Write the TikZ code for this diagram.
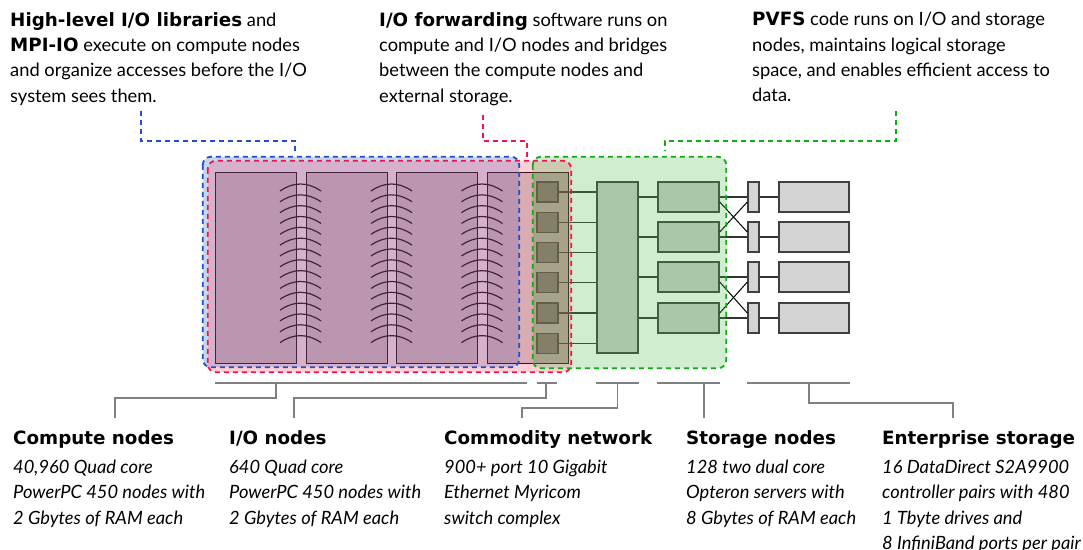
\documentclass[tikz,border=0pt]{standalone}
\usepackage{fontspec}
\setmainfont{Lato}[BoldFont={DejaVu Sans Bold}]
\usepackage{tikz}
\usetikzlibrary{fit,calc}

\definecolor{hlblue}{RGB}{30,80,200}
\definecolor{hlred}{RGB}{240,20,80}
\definecolor{hlgreen}{RGB}{20,170,20}
\definecolor{tintblue}{RGB}{35,99,195}
\definecolor{tintred}{RGB}{255,67,99}
\definecolor{tintgreen}{RGB}{67,187,67}

\tikzset{
  txt/.style={anchor=north west,inner sep=0pt,align=left,
              font=\fontsize{18.3}{25.3}\selectfont},
  rackpanel/.style={draw=black,line width=0.9pt,fill=black!19,anchor=north west,
                    minimum width=81pt,minimum height=191pt,inner sep=0pt},
  box/.style={draw=black!75,line width=1.4pt,inner sep=0pt},
  ionode/.style={box,fill=black!52,minimum width=21pt,minimum height=20pt},
  swbox/.style={box,fill=black!20,minimum width=41pt,minimum height=171pt},
  stnode/.style={box,fill=black!20,minimum width=61pt,minimum height=30pt},
  port/.style={box,fill=black!17,minimum width=11pt,minimum height=30pt},
  esbox/.style={box,fill=black!17,minimum width=70pt,minimum height=30pt},
  link/.style={black!80,line width=1.2pt},
  xlink/.style={black,line width=1pt},
  spine/.style={black,line width=1.2pt},
  hlfill/.style={inner sep=0pt,rounded corners=8pt,fill=#1,fill opacity=0.25},
  hlline/.style={draw=#1,dash pattern=on 5pt off 4pt,line width=1.8pt,rounded corners=8pt},
  callout/.style={draw=#1,dash pattern=on 5pt off 4pt,line width=1.8pt},
  bracket/.style={black!50,line width=1.2pt}
}

\begin{document}
\begin{tikzpicture}[x=1pt,y=-1pt]
\useasboundingbox[fill=white] (0,0) rectangle (1083,549);

% software layers, top row
\node[txt] (libtxt) at (10,12) {\textbf{High-level I/O libraries} and\\
  \textbf{MPI-IO} execute on compute nodes\\
  and organize accesses before the I/O\\
  system sees them.};
\node[txt] (fwdtxt) at (379,12) {\textbf{I/O forwarding} software runs on\\
  compute and I/O nodes and bridges\\
  between the compute nodes and\\
  external storage.};
\node[txt] (pvfstxt) at (752,12) {\textbf{PVFS} code runs on I/O and storage\\
  nodes, maintains logical storage\\
  space, and enables efficient access to\\
  data.};

% compute racks
\node[rackpanel] (cn1) at (215,172) {};
\node[rackpanel] (cn2) at (305.5,172) {};
\node[rackpanel] (cn3) at (396,172) {};
\node[rackpanel] (cn4) at (487,172) {};
\node[anchor=north west,inner sep=0pt,fill=black!28,minimum width=35pt,
      minimum height=191pt] (iocol) at (533,172) {};
\draw[line width=0.9pt] (cn4.north west) rectangle (cn4.south east);

% torus links between racks
\foreach \cx in {300.5,391.5,482}{
  \foreach \k in {0,...,14}{
    \pgfmathsetmacro\ay{184+10.83*\k}
    \draw[spine] (\cx-20.5,\ay+7) .. controls (\cx-7,\ay-2.33) and (\cx+7,\ay-2.33) .. (\cx+20.5,\ay+7);
  }
}

% I/O nodes and the switch
\foreach \i/\y in {1/192,2/222.3,3/252.5,4/282.7,5/313,6/343.2}
  \node[ionode] (io\i) at (547.5,\y) {};
\node[swbox] (sw) at (617.5,267.5) {};
\foreach \i in {1,...,6}
  \draw[link] (io\i.east) -- (io\i.east -| sw.west);

% storage servers, controller ports, disk arrays
\foreach \i/\y in {1/197,2/237,3/277,4/318}{
  \node[stnode] (st\i) at (688.5,\y) {};
  \node[port] (pt\i) at (753.5,\y) {};
  \node[esbox] (es\i) at (814,\y) {};
  \draw[link] (sw.east |- st\i.west) -- (st\i.west);
  \draw[link] (st\i.east) -- (pt\i.west);
  \draw[link] (pt\i.east) -- (es\i.west);
}
\foreach \a/\b in {1/2,3/4}{
  \draw[xlink] ([yshift=-5pt]st\a.east) -- ([yshift=5pt]pt\b.west);
  \draw[xlink] ([yshift=5pt]st\b.east) -- ([yshift=-5pt]pt\a.west);
}

% where each software layer runs
\node[fit={(203,157) (519,367)},hlfill=tintblue] (libbox) {};
\node[fit={(208,161) (571,372)},hlfill=tintred] (fwdbox) {};
\node[fit={(533,157) (726,368)},hlfill=tintgreen] (pvfsbox) {};
\draw[hlline=hlblue] (libbox.north west) rectangle (libbox.south east);
\draw[hlline=hlred] (fwdbox.north west) rectangle (fwdbox.south east);
\draw[hlline=hlgreen] (pvfsbox.north west) rectangle (pvfsbox.south east);

\coordinate (libtip) at (141,111);
\coordinate (fwdtip) at (483,115);
\coordinate (pvfstip) at (896,111);
\draw[callout=hlblue] (libtip) -- ++(0,30) -| (295,152);
\draw[callout=hlred] (fwdtip) -- ++(0,26) -| (fwdbox.north -| 527,0);
\draw[callout=hlgreen] (pvfstip) -- ++(0,30) -| (665,151);

% hardware labels, bottom row
\node[txt] (cnlbl) at (13,430) {\textbf{Compute nodes}\\[4pt] \textit{40,960 Quad core}\\
  \textit{PowerPC 450 nodes with}\\ \textit{2 Gbytes of RAM each}};
\node[txt] (iolbl) at (229,430) {\textbf{I/O nodes}\\[4pt] \textit{640 Quad core}\\
  \textit{PowerPC 450 nodes with}\\ \textit{2 Gbytes of RAM each}};
\node[txt] (netlbl) at (444,430) {\textbf{Commodity network}\\[4pt] \textit{900+ port 10 Gigabit}\\
  \textit{Ethernet Myricom}\\ \textit{switch complex}};
\node[txt] (stlbl) at (686,430) {\textbf{Storage nodes}\\[4pt] \textit{128 two dual core}\\
  \textit{Opteron servers with}\\ \textit{8 Gbytes of RAM each}};
\node[txt] (eslbl) at (882,430) {\textbf{Enterprise storage}\\[4pt] \textit{16 DataDirect S2A9900}\\
  \textit{controller pairs with 480}\\ \textit{1 Tbyte drives and}\\
  \textit{8 InfiniBand ports per pair}};

\coordinate (cnstem) at (115,418);
\coordinate (iostem) at (294,418);
\coordinate (netstem) at (522,418);
\coordinate (ststem) at (704,418);
\coordinate (esstem) at (953,418);
\draw[bracket] (cn1.south west |- 0,383) -- (527,383) (276,383) -- ++(0,15) -| (cnstem);
\draw[bracket] (537,383) -- (557,383) (546,383) -- ++(0,15) -| (iostem);
\draw[bracket] (sw.west |- 0,383) -- (sw.east |- 0,383) (sw.south |- 0,383) -- ++(0,25) -| (netstem);
\draw[bracket] (st1.west |- 0,383) -- (st1.east |- 0,383) (ststem |- 0,383) -- (ststem);
\draw[bracket] (pt1.west |- 0,383) -- (es1.east |- 0,383) (809,383) -- ++(0,20) -| (esstem);
\end{tikzpicture}
\end{document}
